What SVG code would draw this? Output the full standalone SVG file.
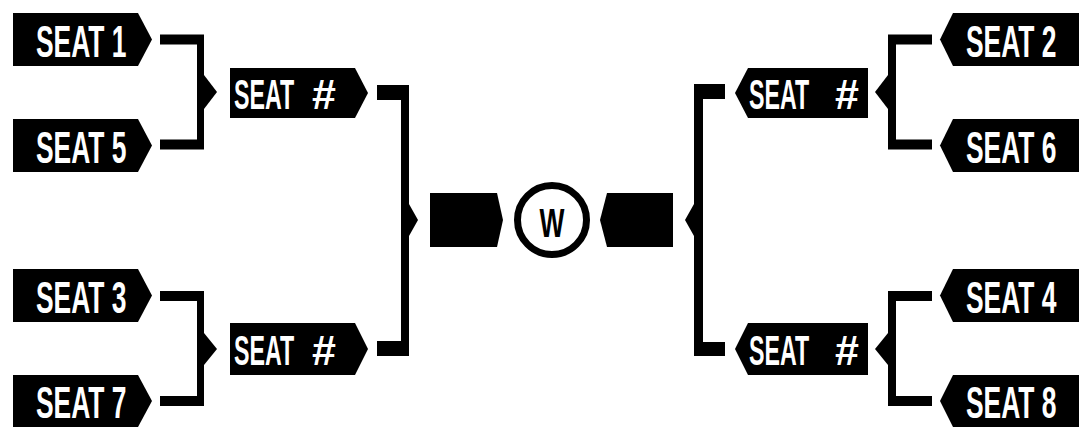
<svg xmlns="http://www.w3.org/2000/svg" width="1091" height="440" viewBox="0 0 1091 440">
<style>
.box{fill:#000}
.lbl{font-family:"Liberation Sans",Arial,sans-serif;font-weight:bold;fill:#fff;font-size:44px}
.sm{font-size:43px}
.con{fill:#000}
.ring{fill:#fff;stroke:#000;stroke-width:7}
.w{font-family:"Liberation Sans",Arial,sans-serif;font-weight:bold;fill:#000;font-size:40px}
</style>
<rect width="1091" height="440" fill="#fff"/>
<g id="connectors">
<path class="con" d="M160,34.5 H204 V149.5 H160 V139.5 H197 V44.5 H160 Z"/>
<path class="con" d="M204,75 L217,92 L204,109 Z"/>
<path class="con" d="M160,291 H204 V406 H160 V396 H197 V301 H160 Z"/>
<path class="con" d="M204,333 L217,349 L204,365 Z"/>
<path class="con" d="M377,85 H409 V356 H377 V341 H401 V100 H377 Z"/>
<path class="con" d="M409,204 L418,220 L409,236 Z"/>
<path class="con" d="M725,84 H694 V356 H725 V342 H703 V99 H725 Z"/>
<path class="con" d="M694,204 L685,220 L694,236 Z"/>
<path class="con" d="M932,34.5 H888 V149.5 H932 V139.5 H896 V44.5 H932 Z"/>
<path class="con" d="M888,75 L875,92 L888,109 Z"/>
<path class="con" d="M932,291 H888 V406 H932 V396 H896 V301 H932 Z"/>
<path class="con" d="M888,333 L875,349 L888,365 Z"/>
</g>
<g id="seat1"><polygon class="box" points="13,13 138,13 152,39.5 138,66 13,66"/><text class="lbl" transform="translate(36,56.5) scale(0.6,1)">SEAT 1</text></g>
<g id="seat5"><polygon class="box" points="13,119 138,119 152,145.5 138,172 13,172"/><text class="lbl" transform="translate(36,162.5) scale(0.6,1)">SEAT 5</text></g>
<g id="seat3"><polygon class="box" points="13,269 138,269 152,295.5 138,322 13,322"/><text class="lbl" transform="translate(36,312.5) scale(0.6,1)">SEAT 3</text></g>
<g id="seat7"><polygon class="box" points="13,375 138,375 152,401 138,427 13,427"/><text class="lbl" transform="translate(36,418) scale(0.6,1)">SEAT 7</text></g>
<g id="seat2"><polygon class="box" points="953,13 1079,13 1079,66 953,66 940,39.5"/><text class="lbl" transform="translate(966,56.5) scale(0.6,1)">SEAT 2</text></g>
<g id="seat6"><polygon class="box" points="953,119 1079,119 1079,172 953,172 940,145.5"/><text class="lbl" transform="translate(966,162.5) scale(0.6,1)">SEAT 6</text></g>
<g id="seat4"><polygon class="box" points="953,269 1079,269 1079,322 953,322 940,295.5"/><text class="lbl" transform="translate(966,312.5) scale(0.6,1)">SEAT 4</text></g>
<g id="seat8"><polygon class="box" points="953,375 1079,375 1079,427 953,427 940,401"/><text class="lbl" transform="translate(966,418) scale(0.6,1)">SEAT 8</text></g>
<g id="semi-left-top"><polygon class="box" points="230,68 355,68 368,93 355,118 230,118"/><text class="lbl sm" transform="translate(234,108.5) scale(0.54,1)">SEAT</text><text class="lbl sm" x="312" y="108.5">#</text></g>
<g id="semi-left-bottom"><polygon class="box" points="230,323 355,323 368,349 355,375 230,375"/><text class="lbl sm" transform="translate(234,364.5) scale(0.54,1)">SEAT</text><text class="lbl sm" x="312" y="364.5">#</text></g>
<g id="semi-right-top"><polygon class="box" points="748,68 868,68 868,118 748,118 735,93"/><text class="lbl sm" transform="translate(749,108.5) scale(0.54,1)">SEAT</text><text class="lbl sm" x="835" y="108.5">#</text></g>
<g id="semi-right-bottom"><polygon class="box" points="748,323 868,323 868,375 748,375 735,349"/><text class="lbl sm" transform="translate(749,364.5) scale(0.54,1)">SEAT</text><text class="lbl sm" x="835" y="364.5">#</text></g>
<g id="final-left"><polygon class="box" points="430,193 497,193 503,220 497,247 430,247"/></g>
<g id="final-right"><polygon class="box" points="607,193 673,193 673,247 607,247 600,220"/></g>
<g id="winner"><circle class="ring" cx="552" cy="220" r="34.5"/><text class="w" text-anchor="middle" transform="translate(552,236.5) scale(0.66,1)">W</text></g>
</svg>
